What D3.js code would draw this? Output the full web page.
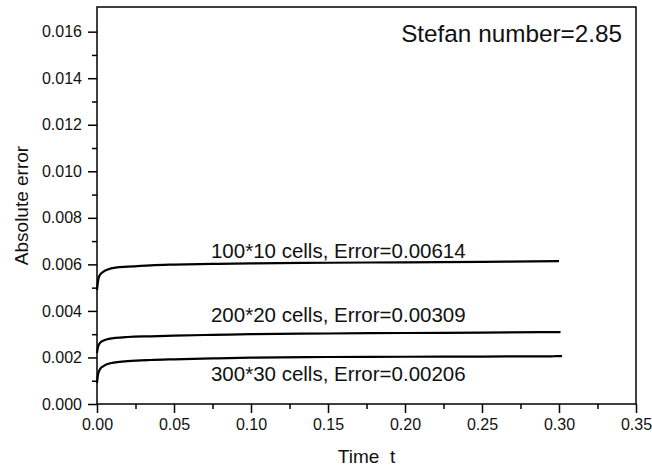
<!DOCTYPE html>
<html><head><meta charset="utf-8">
<script src="https://cdn.jsdelivr.net/npm/d3@7"></script>
<style>
body{margin:0;background:#fff;}
svg{font-family:"Liberation Sans",Arial,sans-serif;}
</style></head>
<body><svg id="chart" width="652" height="468"></svg>
<script>
// Data
const t1 = [0, 0.0005, 0.001, 0.002, 0.004, 0.007, 0.012, 0.02, 0.035, 0.05, 0.075, 0.1, 0.15, 0.2, 0.25, 0.30];
const e1 = [0.0049, 0.0052, 0.0054, 0.00555, 0.00568, 0.00578, 0.00586, 0.0059, 0.00596, 0.00599, 0.00602, 0.00604, 0.00607, 0.00609, 0.00611, 0.00614];
const t2 = [0, 0.0005, 0.001, 0.002, 0.004, 0.007, 0.012, 0.02, 0.035, 0.05, 0.075, 0.1, 0.15, 0.2, 0.25, 0.301];
const e2 = [0.0022, 0.0024, 0.00252, 0.00263, 0.00272, 0.00279, 0.00284, 0.00288, 0.00291, 0.00294, 0.00297, 0.003, 0.00303, 0.00305, 0.00307, 0.00309];
const t3 = [0, 0.0005, 0.001, 0.002, 0.004, 0.007, 0.012, 0.02, 0.035, 0.05, 0.075, 0.1, 0.15, 0.2, 0.25, 0.29, 0.295, 0.298, 0.302];
const e3 = [0.0009, 0.0012, 0.00135, 0.0015, 0.00162, 0.00172, 0.00179, 0.00184, 0.00189, 0.00192, 0.00196, 0.00199, 0.00202, 0.00203, 0.00204, 0.00205, 0.002045, 0.00206, 0.00206];
const seriesLabels = ["100*10 cells, Error=0.00614", "200*20 cells, Error=0.00309", "300*30 cells, Error=0.00206"];
const labelAt = [[0.074, 0.00627], [0.074, 0.00352], [0.074, 0.001]];
const xTicks = [0, 0.05, 0.1, 0.15, 0.2, 0.25, 0.3, 0.35];
const xMinor = [0.025, 0.075, 0.125, 0.175, 0.225, 0.275, 0.325];
const yTicks = [0, 0.002, 0.004, 0.006, 0.008, 0.010, 0.012, 0.014, 0.016];
const yMinor = [0.001, 0.003, 0.005, 0.007, 0.009, 0.011, 0.013, 0.015];
const title = "Stefan number=2.85";

const svg = d3.select("#chart");
const L = 97, R = 636, T = 7, B = 404;
const x = d3.scaleLinear().domain([0, 0.35]).range([L, R]);
const y = d3.scaleLinear().domain([0, 0.01706]).range([B, T]);

// frame
svg.append("rect").attr("x", L).attr("y", T).attr("width", R - L).attr("height", B - T)
  .attr("fill", "none").attr("stroke", "#000").attr("stroke-width", 1.5);

function styleAxis(g) {
  g.select(".domain").remove();
  g.selectAll("line").attr("stroke", "#000").attr("stroke-width", 1.5);
  g.selectAll("text").attr("font-size", 16).attr("fill", "#111")
    .attr("font-family", "'Liberation Sans', Arial, sans-serif");
}

svg.append("g").attr("transform", `translate(0,${B})`)
  .call(d3.axisBottom(x).tickValues(xTicks).tickFormat(d3.format(".2f")).tickSize(9).tickPadding(6)).call(styleAxis);
svg.append("g").attr("transform", `translate(0,${B})`)
  .call(d3.axisBottom(x).tickValues(xMinor).tickFormat("").tickSize(5)).call(styleAxis);
svg.append("g").attr("transform", `translate(${L},0)`)
  .call(d3.axisLeft(y).tickValues(yTicks).tickFormat(d3.format(".3f")).tickSize(9).tickPadding(6)).call(styleAxis);
svg.append("g").attr("transform", `translate(${L},0)`)
  .call(d3.axisLeft(y).tickValues(yMinor).tickFormat("").tickSize(5)).call(styleAxis);

// curves
const line = d3.line().x(d => x(d[0])).y(d => y(d[1])).curve(d3.curveMonotoneX);
[[t1, e1], [t2, e2], [t3, e3]].forEach(([ts, es]) => {
  svg.append("path").datum(ts.map((t, i) => [t, es[i]]))
    .attr("d", line).attr("fill", "none").attr("stroke", "#000").attr("stroke-width", 2.2);
});

// annotations
seriesLabels.forEach((s, i) => {
  svg.append("text").attr("x", x(labelAt[i][0])).attr("y", y(labelAt[i][1]))
    .attr("font-size", 20.5).attr("fill", "#111").text(s);
});

svg.append("text").attr("x", 622).attr("y", 42).attr("text-anchor", "end")
  .attr("font-size", 24.3).attr("fill", "#111").text(title);

svg.append("text").attr("x", (L + R) / 2).attr("y", 463).attr("text-anchor", "middle")
  .attr("font-size", 19).attr("fill", "#111").style("white-space", "pre").text("Time  t");

svg.append("text").attr("transform", `translate(28,${(T + B) / 2}) rotate(-90)`)
  .attr("text-anchor", "middle").attr("font-size", 19).attr("fill", "#111").text("Absolute error");
</script></body></html>
